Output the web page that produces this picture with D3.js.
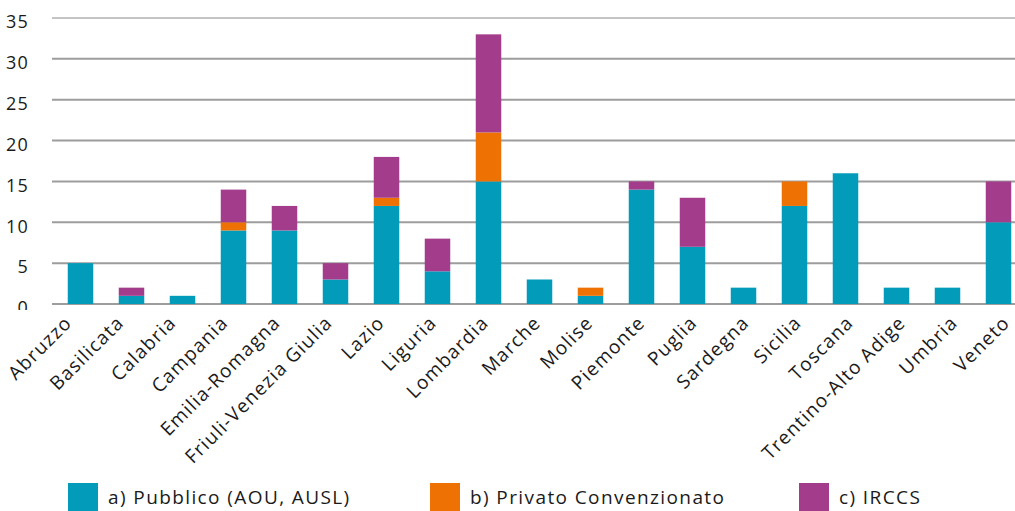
<!DOCTYPE html>
<html><head><meta charset="utf-8">
<script src="https://cdn.jsdelivr.net/npm/d3@7"></script>
<style>body{margin:0;background:#fff}svg{display:block}text{font-family:"Open Sans",sans-serif;fill:#1a1a1a}</style>
</head><body><svg id="c" width="1015" height="511"></svg>
<script>
const categories = ["Abruzzo","Basilicata","Calabria","Campania","Emilia-Romagna","Friuli-Venezia Giulia","Lazio","Liguria","Lombardia","Marche","Molise","Piemonte","Puglia","Sardegna","Sicilia","Toscana","Trentino-Alto Adige","Umbria","Veneto"];
const pubblico = [5,1,1,9,9,3,12,4,15,3,1,14,7,2,12,16,2,2,10];
const privato  = [0,0,0,1,0,0,1,0,6,0,1,0,0,0,3,0,0,0,0];
const irccs    = [0,1,0,4,3,2,5,4,12,0,0,1,6,0,0,0,0,0,5];
const seriesNames = ["a) Pubblico (AOU, AUSL)","b) Privato Convenzionato","c) IRCCS"];
const colors = ["#029cba","#ee7203","#a43c8c"];
const yTicks = [0,5,10,15,20,25,30,35];

const svg = d3.select("#c");
const y0 = 304, yTop = 18;
const y = d3.scaleLinear().domain([0,35]).range([y0,yTop]);
const x = d3.scaleBand().domain(categories).range([55,1024]).paddingInner(0.5).paddingOuter(0.25);
const xl = d3.scalePoint().domain(categories).range([73,1011]);

svg.append("defs").append("clipPath").attr("id","yclip")
  .append("rect").attr("x",0).attr("y",0).attr("width",60).attr("height",310);

// gridlines
svg.append("g").selectAll("line").data(yTicks).join("line")
  .attr("x1",52).attr("x2",1015).attr("y1",d=>y(d)).attr("y2",d=>y(d))
  .attr("stroke",d=>d===35?"#c4c4c4":"#9d9d9d").attr("stroke-width",2);

// y labels
const yAxis = d3.axisLeft(y).tickValues(yTicks).tickSize(0).tickPadding(0);
const gy = svg.append("g").attr("clip-path","url(#yclip)").append("g").attr("transform","translate(29,4)").call(yAxis);
gy.select(".domain").remove();
gy.selectAll("text").style("font-size","18px").style("letter-spacing","1.2px").style("font-family","'Open Sans',sans-serif").attr("fill","#1a1a1a");

// stacked data
const rows = categories.map((c,i)=>({cat:c, a:pubblico[i], b:privato[i], c:irccs[i]}));
const stack = d3.stack().keys(["a","b","c"])(rows);
svg.append("g").selectAll("g").data(stack).join("g").attr("fill",(d,i)=>colors[i])
  .selectAll("rect").data(d=>d).join("rect")
  .attr("x",d=>x(d.data.cat)).attr("width",x.bandwidth())
  .attr("y",d=>y(d[1])).attr("height",d=>y(d[0])-y(d[1]));

// x labels
const xAxis = d3.axisBottom(xl).tickSize(0).tickPadding(0);
const gx = svg.append("g").call(xAxis);
gx.select(".domain").remove();
gx.selectAll(".tick").attr("transform",d=>`translate(${xl(d)},324)`);
gx.selectAll("text").attr("y",0).attr("dy",0).attr("text-anchor","end")
  .attr("transform","rotate(-45)").style("font-size","19px").style("letter-spacing","1.2px")
  .style("font-family","'Open Sans',sans-serif").attr("fill","#1a1a1a");

// legend
const legX = [68,430,799];
const lg = svg.append("g").selectAll("g").data(seriesNames).join("g")
  .attr("transform",(d,i)=>`translate(${legX[i]},483)`);
lg.append("rect").attr("width",30).attr("height",30).attr("fill",(d,i)=>colors[i]);
lg.append("text").attr("x",40).attr("y",21).style("font-size","19px").style("letter-spacing","1.4px").text(d=>d);
</script></body></html>
